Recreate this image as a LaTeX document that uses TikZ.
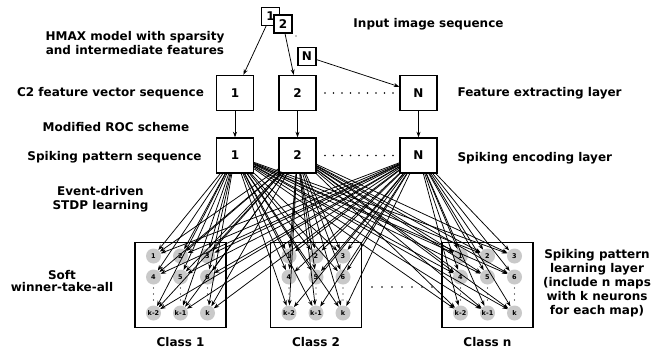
\documentclass[tikz,border=0pt]{standalone}
\usepackage{fontspec}
\setmainfont{DejaVu Sans}
\usetikzlibrary{arrows.meta}
\begin{document}
\begin{tikzpicture}[x=1pt,y=-1pt,
    font=\bfseries\fontsize{12}{14}\selectfont,
    layerbox/.style={draw,fill=white,line width=1.4pt,minimum width=37pt,minimum height=35pt,inner sep=0pt},
    imgbox/.style={draw,fill=white,line width=1.2pt,minimum size=18pt,inner sep=0pt},
    classbox/.style={draw,line width=1.4pt,minimum width=91pt,minimum height=85pt,inner sep=0pt},
    neuron/.style={circle,fill=gray!42,minimum size=15pt,inner sep=0pt,font=\bfseries\fontsize{6.5}{7}\selectfont},
    edge/.style={-{Stealth[length=5.5pt,width=4pt]},line width=0.75pt},
    txt/.style={align=center}]
    \useasboundingbox (0,0) rectangle (672,354);
    % input image sequence
    \node[imgbox] (i1) at (270.5,16.5) {1};
    \node[imgbox] (i2) at (283,24) {2};
    \node[imgbox] (iN) at (307,56.5) {N};
    \fill (296,36) circle (0.6);
    % feature extracting layer and spiking encoding layer
    \node[layerbox] (f1) at (235,93) {1};
    \node[layerbox] (f2) at (297.5,93) {2};
    \node[layerbox] (fN) at (418.5,93) {N};
    \node[layerbox] (s1) at (235,155.5) {1};
    \node[layerbox] (s2) at (297.5,155.5) {2};
    \node[layerbox] (sN) at (418.5,155.5) {N};
    \foreach \x in {325,333.5,...,394} {
        \fill (\x,93) circle (0.8);
        \fill (\x,155.5) circle (0.8);
    }
    \draw[edge] (i1) -- (f1);
    \draw[edge] (i2) -- (f2);
    \draw[edge] (iN) -- (fN);
    \foreach \n in {1,2,N}
        \draw[edge] (f\n) -- (s\n);
    % spiking pattern learning layer
    \foreach \c/\x/\t in {c1/180.5/1,c2/316/2,cn/487.5/n} {
        \node[classbox] (\c) at (\x,285) {};
        \node (\c l) at (\x,342) {Class \t};
        \foreach \lab/\dx/\y [count=\i] in {1/-27/256,2/0/256,3/27/256,4/-27/277,5/0/277,6/27/277,k-2/-27/313,k-1/0/313,k/27/313}
            \node[neuron] (\c n\i) at (\x+\dx,\y) {\lab};
        \foreach \dx in {-27,0,27}
            \foreach \dy in {288,294,300}
                \fill (\x+\dx,\dy) circle (0.6);
    }
    \foreach \x in {372,382,...,433}
        \fill (\x,287) circle (0.9);
    \foreach \s in {s1,s2,sN}
        \foreach \c in {c1,c2,cn}
            \foreach \i in {1,...,9}
                \draw[edge] (\s) -- (\c n\i);
    % labels
    \node[txt] (t1) at (135,43.5) {HMAX model with sparsity\\and intermediate features};
    \node (t2) at (428.5,24) {Input image sequence};
    \node (t3) at (110.5,93.5) {C2 feature vector sequence};
    \node[anchor=west] (t4) at (454,93) {Feature extracting layer};
    \node (t5) at (116,127.5) {Modified ROC scheme};
    \node (t6) at (114.5,157.5) {Spiking pattern sequence};
    \node[anchor=west] (t7) at (454,158) {Spiking encoding layer};
    \node[txt] (t8) at (100.5,199.5) {Event-driven\\STDP learning};
    \node[txt] (t9) at (62,281) {Soft\\[-2pt]winner-take-all};
    \node[txt] (t10) at (597,283) {Spiking pattern\\learning layer\\(include n maps\\with k neurons\\for each map)};
\end{tikzpicture}
\end{document}
